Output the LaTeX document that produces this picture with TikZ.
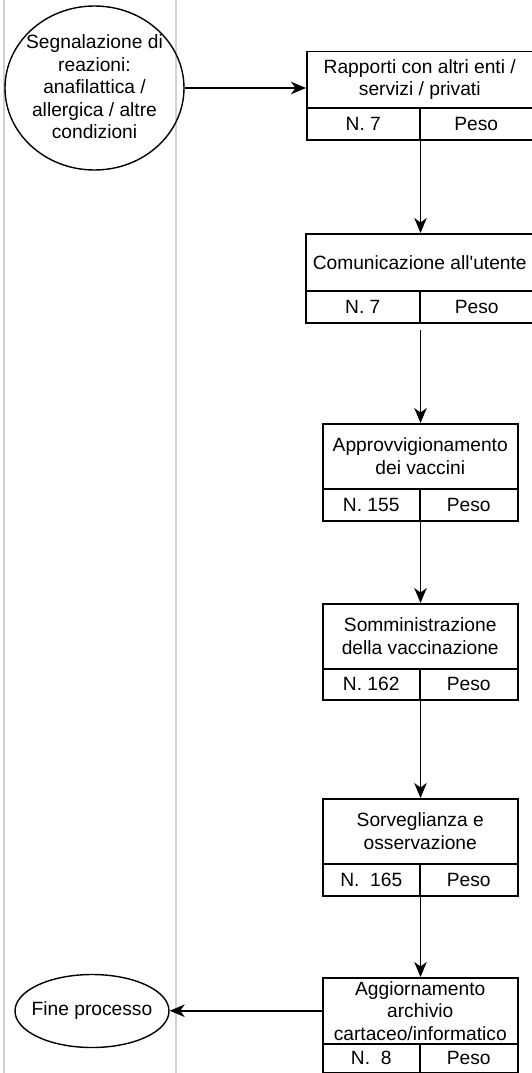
\documentclass[tikz,border=0pt]{standalone}
\usepackage{fontspec}
\newfontfamily\hv{Liberation Sans}
\usetikzlibrary{arrows.meta,shapes.geometric}
\begin{document}
\begin{tikzpicture}[x=1pt,y=-1pt,
  txt/.style={font=\hv\fontsize{19.2}{22.5}\selectfont, align=center},
  cell/.style={draw, line width=1.5pt, rectangle, inner sep=0pt, anchor=north west, txt},
  terminal/.style={draw, ellipse, line width=1.4pt, inner sep=0pt},
  flow/.style={line width=1.5pt, -{Stealth[length=15pt,width=12.5pt,inset=4.5pt]}},
  lane/.style={draw=black!18, line width=1.4pt}]
\useasboundingbox (0,0) rectangle (531,1073);

% swimlane separators
\draw[lane] (4,-5) -- (4,1080);
\draw[lane] (176,-5) -- (176,1080);

% start event
\node[terminal, minimum width=179pt, minimum height=164pt] (start) at (94.5,88) {};
\node[txt] (starttext) at (94.5,87) {Segnalazione di\\reazioni:\\anafilattica /\\allergica / altre\\condizioni};

% activity 1
\node[cell, minimum width=226pt, minimum height=56pt] (h1) at (306,51) {Rapporti con altri enti /\\servizi / privati};
\node[cell, minimum width=113pt, minimum height=32pt] (n1) at (306,107) {N. 7};
\node[cell, minimum width=113pt, minimum height=32pt] (p1) at (419,107) {Peso};

% activity 2
\node[cell, minimum width=228pt, minimum height=57pt] (h2) at (305,233) {Comunicazione all'utente};
\node[cell, minimum width=114pt, minimum height=32pt] (n2) at (305,290) {N. 7};
\node[cell, minimum width=114pt, minimum height=32pt] (p2) at (419,290) {Peso};

% activity 3
\node[cell, minimum width=195pt, minimum height=65pt] (h3) at (322,423) {Approvvigionamento\\dei vaccini};
\node[cell, minimum width=97pt, minimum height=32pt] (n3) at (322,488) {N. 155};
\node[cell, minimum width=98pt, minimum height=32pt] (p3) at (419,488) {Peso};

% activity 4
\node[cell, minimum width=195pt, minimum height=65pt] (h4) at (322,603) {Somministrazione\\della vaccinazione};
\node[cell, minimum width=97pt, minimum height=31pt] (n4) at (322,668) {N. 162};
\node[cell, minimum width=98pt, minimum height=31pt] (p4) at (419,668) {Peso};

% activity 5
\node[cell, minimum width=195pt, minimum height=65pt] (h5) at (322,798) {Sorveglianza e\\osservazione};
\node[cell, minimum width=97pt, minimum height=32pt] (n5) at (322,863) {N.\ \ 165};
\node[cell, minimum width=98pt, minimum height=32pt] (p5) at (419,863) {Peso};

% activity 6
\node[cell, minimum width=195pt, minimum height=66pt] (h6) at (322,977) {Aggiornamento\\archivio\\cartaceo/informatico};
\node[cell, minimum width=97pt, minimum height=29pt] (n6) at (322,1043) {N.\ \ 8};
\node[cell, minimum width=98pt, minimum height=29pt] (p6) at (419,1043) {Peso};

% end event
\node[terminal, minimum width=154pt, minimum height=73pt] (end) at (92,1011) {};
\node[txt] (endtext) at (92,1011) {Fine processo};

% connectors
\draw[flow] (start.east) -- (start.east -| h1.west);
\draw[flow] (n1.south east) -- (n1.south east |- h2.north);
\draw[flow] ([yshift=-6pt]n2.south east) -- (n2.south east |- h3.north);
\draw[flow] (n3.south east) -- (n3.south east |- h4.north);
\draw[flow] (n4.south east) -- (n4.south east |- h5.north);
\draw[flow] (n5.south east) -- (n5.south east |- h6.north);
\draw[flow] (h6.west) -- (h6.west -| end.east);
\end{tikzpicture}
\end{document}
